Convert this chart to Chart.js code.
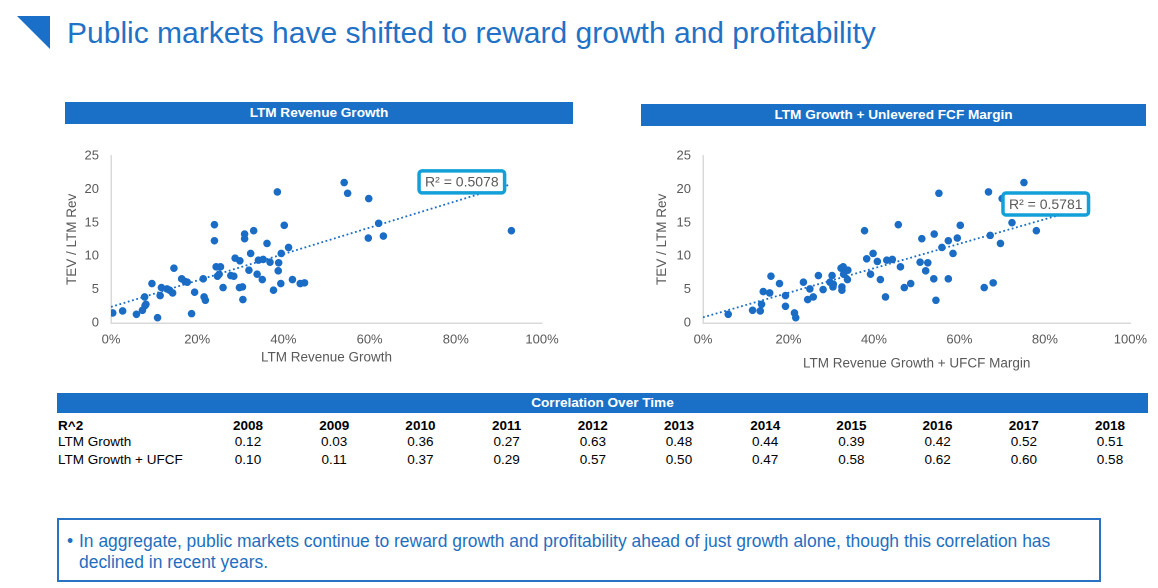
<!DOCTYPE html>
<html>
<head>
<meta charset="utf-8">
<script src="https://cdn.jsdelivr.net/npm/chart.js@4.4.1/dist/chart.umd.min.js"></script>
<style>
  html, body { margin:0; padding:0; background:#fff; }
  body { width:1158px; height:588px; position:relative; overflow:hidden; font-family:"Liberation Sans", Arial, sans-serif; }
  .abs { position:absolute; }
  #tri { left:17px; top:16px; width:0; height:0; border-top:33px solid #1a70c8; border-left:33px solid transparent; }
  #title { left:67px; top:16px; font-size:30px; color:#1f72c6; white-space:nowrap; }
  .hbar { background:#1a6fc6; color:#fff; font-weight:bold; font-size:13.6px; text-align:center; }
  #tbar { left:57px; top:393px; width:1091px; height:20px; line-height:20px; }
  .cell { position:absolute; font-size:13.5px; color:#000; white-space:nowrap; transform:translateX(-50%); }
  .lab { position:absolute; font-size:13.5px; color:#000; white-space:nowrap; left:58px; }
  #note { left:57px; top:518px; width:1040px; height:60px; border:2px solid #2a72c4; color:#1f6fc0; font-size:17.45px; line-height:21px; }
  #note .b { position:absolute; left:8px; top:11px; }
  #note .t { position:absolute; left:20px; top:11px; width:1015px; }
  canvas { position:absolute; }
</style>
</head>
<body>
<div id="tri" class="abs"></div>
<div id="title" class="abs">Public markets have shifted to reward growth and profitability</div>

<div class="abs hbar" style="left:65px;top:102px;width:508px;height:22px;line-height:22px;">LTM Revenue Growth</div>
<div class="abs hbar" style="left:641px;top:104px;width:505px;height:22px;line-height:22px;">LTM Growth + Unlevered FCF Margin</div>

<div style="position:absolute;left:50px;top:136px;width:520px;height:240px;"><canvas id="c1"></canvas></div>
<div style="position:absolute;left:640px;top:136px;width:516px;height:240px;"><canvas id="c2"></canvas></div>

<div id="tbar" class="abs hbar">Correlation Over Time</div>
<div id="table"></div>

<div id="note" class="abs"><span class="b">•</span><span class="t">In aggregate, public markets continue to reward growth and profitability ahead of just growth alone, though this correlation has declined in recent years.</span></div>

<script>
// ---------- DATA ----------
// Left chart: LTM Revenue Growth (%) vs TEV / LTM Rev
const growthX = [0.4,2.7,5.9,7.3,7.9,8.1,7.8,9.5,10.8,11.4,11.7,13.0,13.6,14.3,14.6,16.4,17.2,17.7,18.7,19.4,21.4,21.6,21.9,24.0,24.0,24.4,24.7,25.4,25.1,26.0,27.8,28.5,28.8,29.9,29.8,30.5,30.6,31.0,31.0,32.0,32.4,33.1,33.9,34.2,35.3,35.1,36.2,36.9,37.7,38.6,38.9,38.8,39.4,39.5,40.2,41.2,42.1,43.9,44.9,54.1,54.9,59.8,59.7,62.1,63.2,92.9];
const growthY = [1.5,1.8,1.3,1.9,2.6,2.8,3.9,5.9,0.8,4.1,5.3,5.1,4.9,4.5,8.2,6.6,6.2,6.1,1.4,4.6,6.6,3.9,3.4,12.3,14.7,8.4,7.0,8.4,7.3,5.3,7.1,7.0,9.7,9.3,5.3,5.4,3.5,13.3,12.6,7.9,10.4,13.8,7.3,9.4,9.5,6.5,11.9,9.1,4.9,19.6,9.0,7.8,5.9,10.4,14.6,11.3,6.5,5.9,6.0,21.0,19.4,18.6,12.7,14.9,13.0,13.8];
const growthTrendX = [0, 92.6];
const growthTrendY = [2.4, 20.7];
const growthR2 = "R\u00B2 = 0.5078";

// Right chart: LTM Revenue Growth + UFCF Margin (%) vs TEV / LTM Rev
const ufcfX = [5.9,11.6,13.4,13.7,14.1,15.6,15.9,17.9,19.3,19.3,21.4,21.7,23.5,24.5,25.0,25.8,27.0,28.1,29.7,30.2,30.4,30.5,32.3,32.8,32.5,32.5,32.9,33.9,33.8,37.8,38.3,39.2,39.8,40.8,41.5,42.7,43.0,44.3,45.7,46.2,47.1,48.6,50.8,51.2,52.1,52.6,54.0,54.1,54.5,55.2,55.9,57.4,57.4,58.5,59.5,60.2,65.8,66.8,67.2,67.9,69.6,70.0,72.3,75.1,78.0];
const ufcfY = [1.3,1.9,1.8,2.8,4.7,4.5,7.0,5.9,2.5,4.1,1.5,0.8,6.1,3.5,5.1,3.9,7.1,5.0,6.1,7.1,5.4,5.8,8.2,8.4,5.4,4.9,7.3,7.9,6.5,13.8,9.6,7.3,10.4,9.2,6.5,3.9,9.4,9.5,14.7,8.4,5.3,5.9,9.1,12.6,7.8,9.0,6.6,13.3,3.4,19.4,11.3,12.3,6.6,10.4,12.7,14.6,5.3,19.6,13.1,6.0,11.9,18.6,15.0,21.0,13.8];
const ufcfTrendX = [0, 90.8];
const ufcfTrendY = [0.85, 17.5];
const ufcfR2 = "R\u00B2 = 0.5781";

// Table
const years = ["2008","2009","2010","2011","2012","2013","2014","2015","2016","2017","2018"];
const r2Growth = ["0.12","0.03","0.36","0.27","0.63","0.48","0.44","0.39","0.42","0.52","0.51"];
const r2GrowthUfcf = ["0.10","0.11","0.37","0.29","0.57","0.50","0.47","0.58","0.62","0.60","0.58"];
const rowLabels = ["R^2","LTM Growth","LTM Growth + UFCF"];
const yTickValues = [0,5,10,15,20,25];
const xTickValues = [0,20,40,60,80,100];

// ---------- TABLE ----------
(function(){
  const t = document.getElementById('table');
  const rowsY = [418, 434, 452];
  rowLabels.forEach((l,i)=>{
    const d = document.createElement('div'); d.className='lab'; d.style.top = rowsY[i]+'px';
    d.textContent = l; if(i===0) d.style.fontWeight='bold'; t.appendChild(d);
  });
  const rows = [years, r2Growth, r2GrowthUfcf];
  rows.forEach((r,ri)=>{
    r.forEach((v,ci)=>{
      const d = document.createElement('div'); d.className='cell';
      d.style.left = (248 + 86.2*ci)+'px'; d.style.top = rowsY[ri]+'px';
      if(ri===0) d.style.fontWeight='bold';
      d.textContent = v; t.appendChild(d);
    });
  });
})();

// ---------- CHARTS ----------
const BLUE = '#1a6cc4';
const GRAY = '#595959';
const AXIS = '#d9d9d9';
const FONT = '"Liberation Sans", Arial, sans-serif';

const r2Plugin = {
  id:'r2box',
  afterDatasetsDraw(chart, args, opts){
    const {ctx, scales:{x,y}} = chart;
    const cx = x.getPixelForValue(opts.x), cy = y.getPixelForValue(opts.y);
    ctx.save();
    ctx.font = '14px ' + FONT;
    const w = ctx.measureText(opts.text).width + 12, h = 22;
    ctx.fillStyle = '#fff';
    ctx.strokeStyle = '#13a0d8';
    ctx.lineWidth = 3.5;
    ctx.beginPath();
    ctx.roundRect(cx - w/2, cy - h/2, w, h, 3);
    ctx.fill(); ctx.stroke();
    ctx.fillStyle = GRAY;
    ctx.textAlign = 'center'; ctx.textBaseline = 'middle';
    ctx.fillText(opts.text, cx, cy + 1);
    ctx.restore();
  }
};

function makeChart(id, xs, ys, tx, ty, xTitle, xTitleBottom, yAxisW, padRight, r2, r2pos){
  const pts = xs.map((v,i)=>({x:v, y:ys[i]}));
  const trend = tx.map((v,i)=>({x:v, y:ty[i]}));
  return new Chart(document.getElementById(id), {
    type:'scatter',
    data:{ datasets:[
      { data:trend, showLine:true, pointRadius:0, borderColor:BLUE, borderWidth:1.8, borderDash:[1.8,2.6], fill:false, order:2 },
      { data:pts, pointRadius:3.8, pointHoverRadius:3.8, backgroundColor:BLUE, borderColor:BLUE, borderWidth:0, order:1 }
    ]},
    options:{
      responsive:true, maintainAspectRatio:false, animation:false,
      devicePixelRatio: 2,
      layout:{ padding:{ left:0, right:padRight, top:14, bottom:0 } },
      plugins:{ legend:{display:false}, tooltip:{enabled:false}, r2box:{ text:r2, x:r2pos[0], y:r2pos[1] } },
      scales:{
        x:{ type:'linear', min:0, max:100,
            afterBuildTicks(s){ s.ticks = xTickValues.map(v=>({value:v})); },
            grid:{display:false, drawTicks:false}, border:{display:true, color:AXIS, width:1.5},
            ticks:{ color:GRAY, font:{family:FONT, size:13}, padding:9, callback:v=>v+'%', maxRotation:0 },
            title:{ display:true, text:xTitle, color:GRAY, font:{family:FONT, size:13.5}, padding:{top:0,bottom:xTitleBottom} },
            afterFit(s){ s.height = 53; } },
        y:{ type:'linear', min:0, max:25,
            afterBuildTicks(s){ s.ticks = yTickValues.map(v=>({value:v})); },
            grid:{display:false, drawTicks:false}, border:{display:true, color:AXIS, width:1.5},
            ticks:{ color:GRAY, font:{family:FONT, size:13}, padding:12 },
            title:{ display:true, text:'TEV / LTM Rev', color:GRAY, font:{family:FONT, size:13.5}, padding:{top:14,bottom:0} },
            afterFit(s){ s.width = yAxisW; } }
      }
    },
    plugins:[r2Plugin]
  });
}

makeChart('c1', growthX, growthY, growthTrendX, growthTrendY, 'LTM Revenue Growth', 10, 61, 28, growthR2, [81.4, 21.1]);
makeChart('c2', ufcfX, ufcfY, ufcfTrendX, ufcfTrendY, 'LTM Revenue Growth + UFCF Margin', 4, 63, 23, ufcfR2, [80.2, 17.8]);
</script>
</body>
</html>
